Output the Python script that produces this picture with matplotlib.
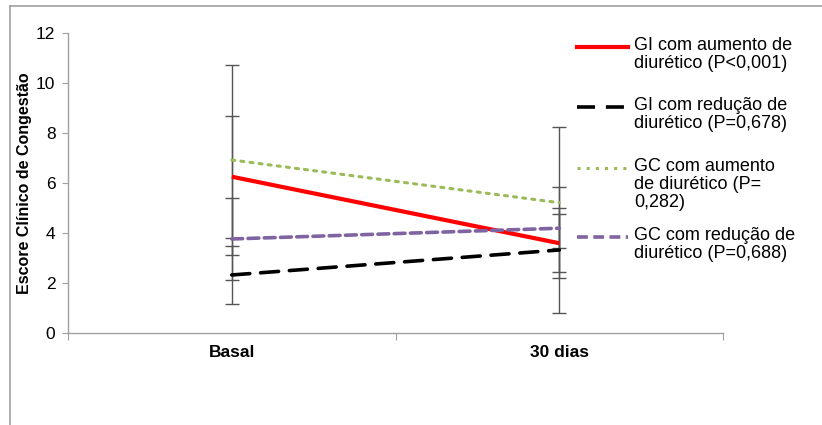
import matplotlib.pyplot as plt
from matplotlib.lines import Line2D

categories = ['Basal', '30 dias']
series_names = [
    'GI com aumento de\ndiurético (P<0,001)',
    'GI com redução de\ndiurético (P=0,678)',
    'GC com aumento\nde diurético (P=\n0,282)',
    'GC com redução de\ndiurético (P=0,688)',
]
gi_aumento = [6.25, 3.59]
gi_reducao = [2.32, 3.32]
gc_aumento = [6.92, 5.21]
gc_reducao = [3.76, 4.19]
gi_aumento_err = [2.44, 1.16]
gi_reducao_err = [1.15, 2.52]
gc_aumento_err = [3.8, 3.02]
gc_reducao_err = [1.65, 0.8]
yticks = [0, 2, 4, 6, 8, 10, 12]

values = [gi_aumento, gi_reducao, gc_aumento, gc_reducao]
errors = [gi_aumento_err, gi_reducao_err, gc_aumento_err, gc_reducao_err]
styles = [
    dict(color='#FF0000', lw=3.0, ls='-'),
    dict(color='#000000', lw=2.6, ls=(0, (5, 3))),
    dict(color='#9BBB59', lw=2.2, ls=(0, (1, 2))),
    dict(color='#8064A2', lw=2.6, ls=(0, (3, 1.5))),
]

fig = plt.figure(figsize=(8.22, 4.25), dpi=100)
ax = fig.add_axes([0.0827, 0.2165, 0.797, 0.706])

x = list(range(len(categories)))
for vals, errs in zip(values, errors):
    ax.errorbar(x, vals, yerr=errs, fmt='none', ecolor='#555555',
                elinewidth=1.0, capsize=5, capthick=1.0, zorder=2)
for vals, st in zip(values, styles):
    ax.plot(x, vals, dash_capstyle='round' if st['ls'] != '-' else 'butt',
            solid_capstyle='butt', zorder=3, **st)

ax.set_xlim(-0.5, 1.5)
ax.set_ylim(0, 12)
ax.set_yticks(yticks)
ax.set_yticklabels([str(v) for v in yticks], fontsize=12.5, family='Liberation Sans')
ax.set_xticks([-0.5, 0.5, 1.5])
ax.set_xticklabels([])
ax.set_xticks(x, minor=True)
ax.set_xticklabels(categories, minor=True, fontsize=12.5, fontweight='bold',
                   family='Liberation Sans')
ax.tick_params(axis='x', which='minor', length=0, pad=9)
ax.tick_params(axis='x', which='major', length=5, color='#A0A0A0', direction='out')
ax.tick_params(axis='y', length=4, color='#A0A0A0', pad=5)
for side in ['top', 'right']:
    ax.spines[side].set_visible(False)
for side in ['left', 'bottom']:
    ax.spines[side].set_color('#A0A0A0')
    ax.spines[side].set_linewidth(1.0)
ax.set_ylabel('Escore Clínico de Congestão', fontsize=11.5, fontweight='bold',
              family='Liberation Sans', labelpad=3)

# legend drawn by hand to match layout
W, H = 822, 425
legend_rows = [47, 107, 168, 237]
for name, st, yy in zip(series_names, styles, legend_rows):
    fy = 1 - yy / H
    fig.add_artist(Line2D([577 / W, 628 / W], [fy, fy], **st))
    fig.text(634 / W, 1 - (yy - 10) / H, name, fontsize=13, va='top', ha='left',
             family='Liberation Sans', linespacing=1.08)

# outer frame (top and left visible)
fig.add_artist(Line2D([10 / W, 1.0], [1 - 6 / H, 1 - 6 / H], color='#A0A0A0', lw=1.2))
fig.add_artist(Line2D([10 / W, 10 / W], [1 - 6 / H, 0], color='#A0A0A0', lw=1.2))

fig.savefig('out.png', dpi=100)
